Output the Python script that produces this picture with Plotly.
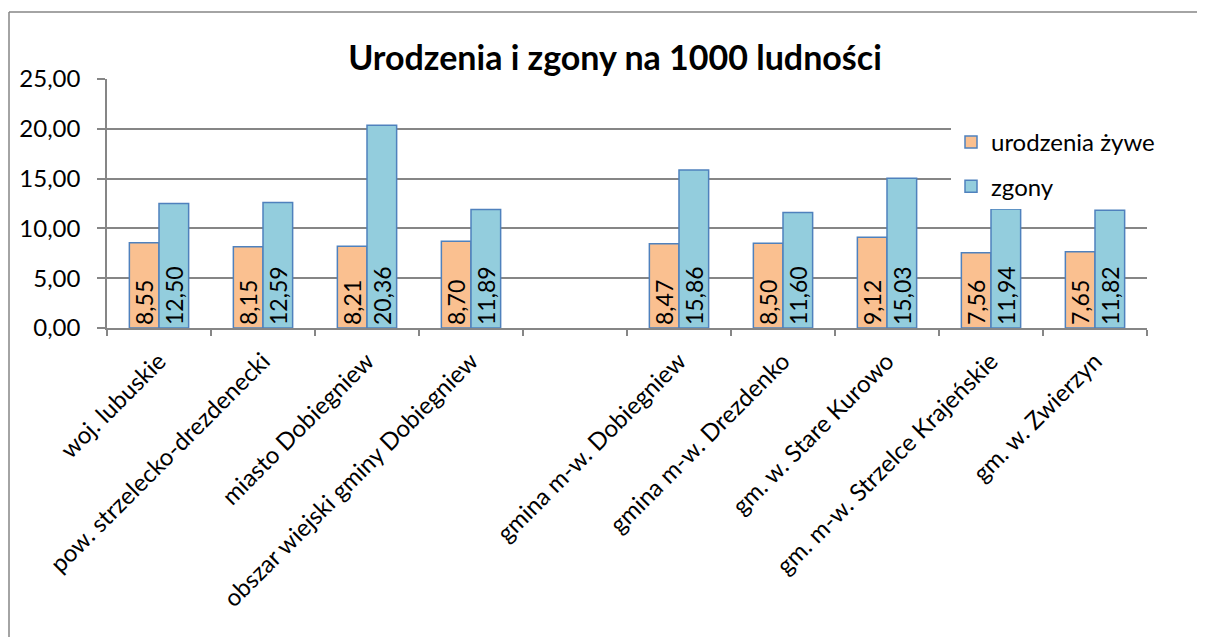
import plotly.graph_objects as go

categories = ["woj. lubuskie", "pow. strzelecko-drezdenecki", "miasto Dobiegniew",
              "obszar wiejski gminy Dobiegniew", " ", "gmina m-w. Dobiegniew",
              "gmina m-w. Drezdenko", "gm. w. Stare Kurowo", "gm. m-w. Strzelce Krajeńskie",
              "gm. w. Zwierzyn"]
urodzenia = [8.55, 8.15, 8.21, 8.70, None, 8.47, 8.50, 9.12, 7.56, 7.65]
zgony = [12.50, 12.59, 20.36, 11.89, None, 15.86, 11.60, 15.03, 11.94, 11.82]
y_ticks = [0, 5, 10, 15, 20, 25]

FONT = "Lato"
# page has 8px body margin; figure is sized/offset to compensate
W, H = 1197, 629
L, T, R, B = 99, 71, 58, 309
PW = W - L - R
PH = H - T - B

def px(xf):
    return (xf - L) / PW

def py(yf):
    return (H - B - yf) / PH

fig = go.Figure()
fig.add_trace(go.Bar(
    x=categories, y=urodzenia, name="urodzenia żywe", legendgroup="a",
    marker=dict(color="#FAC090", line=dict(color="#4F81BD", width=1.5)),
    texttemplate="%{y:.2f}", textposition="inside", insidetextanchor="start",
    textangle=-90, constraintext="none",
    textfont=dict(family=FONT, size=23, color="black"),
))
fig.add_trace(go.Bar(
    x=categories, y=zgony, name="zgony", legendgroup="b",
    marker=dict(color="#93CDDD", line=dict(color="#4F81BD", width=1.5)),
    texttemplate="%{y:.2f}", textposition="inside", insidetextanchor="start",
    textangle=-90, constraintext="none",
    textfont=dict(family=FONT, size=23, color="black"),
))

fig.update_layout(
    width=W, height=H,
    paper_bgcolor="white", plot_bgcolor="white",
    separators=", ",
    font=dict(family=FONT, size=22, color="black"),
    margin=dict(l=L, r=R, t=T, b=B),
    barmode="group", bargap=0.43, bargroupgap=0,
    title=dict(text="<b>Urodzenia i zgony na 1000 ludności</b>",
               font=dict(family=FONT, size=34, color="black"),
               x=(615 - 8) / W, xanchor="center", xref="container",
               y=1 - (58 - 8) / H, yanchor="middle", yref="container"),
    legend=dict(x=px(943), y=py(112), xanchor="left", yanchor="top",
                bgcolor="white", font=dict(family=FONT, size=24),
                traceorder="grouped", tracegroupgap=10),
    showlegend=True,
    xaxis=dict(type="category", tickangle=-45, tickson="boundaries",
               ticks="outside", ticklen=6, tickcolor="#868686", tickwidth=1.5,
               showline=True, linecolor="#868686", linewidth=1.5,
               ticklabelstandoff=8, automargin=False,
               showgrid=False, tickfont=dict(family=FONT, size=24)),
    yaxis=dict(range=[0, 25], tickvals=y_ticks, tickformat=".2f",
               ticks="outside", ticklen=8, tickcolor="#868686", tickwidth=1.5,
               showline=True, linecolor="#868686", linewidth=1.5,
               ticklabelstandoff=12, automargin=False,
               showgrid=True, gridcolor="#868686", gridwidth=1.5,
               zeroline=False, tickfont=dict(family=FONT, size=24)),
    shapes=[
        dict(type="line", xref="paper", yref="paper",
             x0=px(1), x1=px(1215), y0=py(4), y1=py(4),
             line=dict(color="#868686", width=1.5)),
        dict(type="line", xref="paper", yref="paper",
             x0=px(1), x1=px(1), y0=py(4), y1=py(650),
             line=dict(color="#868686", width=1.5)),
    ],
)

fig.write_html("out.html")
